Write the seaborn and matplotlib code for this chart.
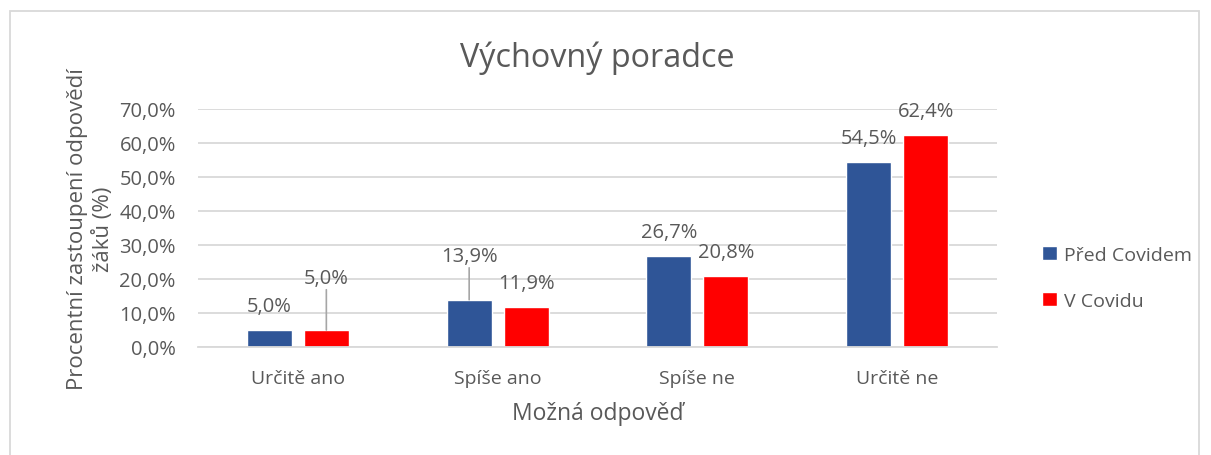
import matplotlib
matplotlib.use("Agg")
import matplotlib.pyplot as plt
import seaborn as sns
import pandas as pd
from matplotlib.patches import Rectangle
from matplotlib.ticker import FuncFormatter

categories = ["Určitě ano", "Spíše ano", "Spíše ne", "Určitě ne"]
series_names = ["Před Covidem", "V Covidu"]
pred_covidem = [5.0, 13.9, 26.7, 54.5]
v_covidu = [5.0, 11.9, 20.8, 62.4]
colors = ["#2F5597", "#FF0000"]

df = pd.DataFrame({
    "Kategorie": categories * 2,
    "Série": [series_names[0]] * 4 + [series_names[1]] * 4,
    "Hodnota": pred_covidem + v_covidu,
})

sns.set_theme(style="white")
plt.rcParams["font.family"] = ["Open Sans", "DejaVu Sans"]
TXT = "#595959"

fig = plt.figure(figsize=(12.11, 4.56), dpi=100)
ax = fig.add_axes([198 / 1211, 1 - 348 / 456, (997 - 198) / 1211, (348 - 110) / 456])

sns.barplot(data=df, x="Kategorie", y="Hodnota", hue="Série", palette=colors,
            width=0.57, gap=0.21, ax=ax, legend=True, saturation=1)

ax.set_ylim(0, 70)
ax.set_xlim(-0.5, 3.5)
ax.set_yticks(range(0, 71, 10))
ax.yaxis.set_major_formatter(FuncFormatter(lambda v, p: f"{v:.1f}%".replace(".", ",")))
ax.grid(axis="y", color="#D9D9D9", linewidth=1.3)
ax.set_axisbelow(True)
for s in ["top", "right", "left"]:
    ax.spines[s].set_visible(False)
ax.spines["bottom"].set_color("#D9D9D9")
ax.spines["bottom"].set_linewidth(1.3)
ax.tick_params(axis="y", length=0, labelsize=14.5, colors=TXT, pad=16)
ax.tick_params(axis="x", length=0, labelsize=14, colors=TXT, pad=16)

ax.set_xlabel("Možná odpověď", fontsize=16.5, color=TXT, labelpad=10)
ax.set_ylabel("Procentní zastoupení odpovědí\nžáků (%)", fontsize=16, color=TXT,
              labelpad=4, linespacing=1.3)
ax.set_title("Výchovný poradce", fontsize=23.3, color=TXT, pad=31)

# data labels (extra vertical offsets in points for labels moved by hand in the original)
extra = {(0, 1): 20, (1, 0): 14}
for si, cont in enumerate(ax.containers):
    for ci, bar in enumerate(cont):
        val = bar.get_height()
        x = bar.get_x() + bar.get_width() / 2
        dy = 10 + extra.get((ci, si), 0)
        ax.annotate(f"{val:.1f}%".replace(".", ","), (x, val), xytext=(0, dy),
                    textcoords="offset points", ha="center", va="bottom",
                    fontsize=14.5, color=TXT)
        if (ci, si) in extra:
            ax.annotate("", (x, val), xytext=(0, dy - 1), textcoords="offset points",
                        arrowprops=dict(arrowstyle="-", color="#A6A6A6", lw=1.2,
                                        shrinkA=0, shrinkB=0))

leg = ax.legend(loc="center left", bbox_to_anchor=(1.035, 0.29), frameon=False,
                fontsize=14, handlelength=0.75, handleheight=0.75, labelspacing=1.45,
                handletextpad=0.35)
for t in leg.get_texts():
    t.set_color(TXT)

fig.patches.append(Rectangle((10 / 1211, -0.05), 1189 / 1211, 1.05 - 12 / 456,
                             transform=fig.transFigure, fill=False,
                             edgecolor="#D9D9D9", linewidth=1.3))

fig.savefig("out.png", dpi=100)
